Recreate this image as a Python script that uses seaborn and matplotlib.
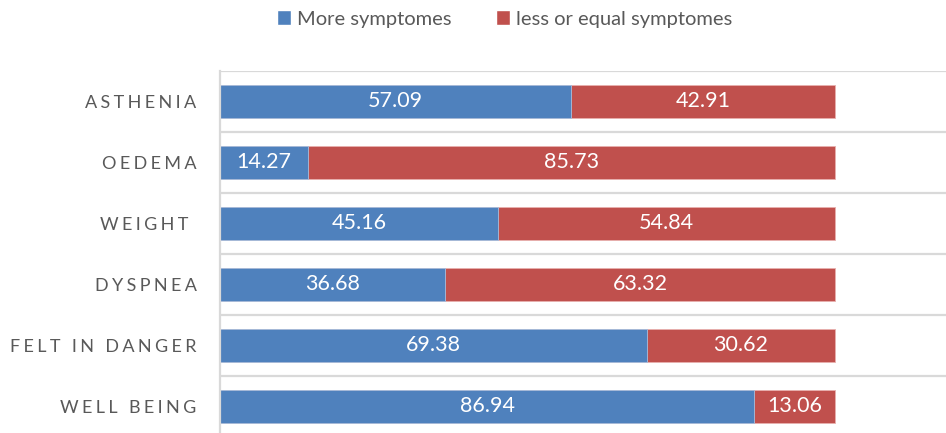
import numpy as np
import pandas as pd
import matplotlib
matplotlib.use("Agg")
import matplotlib.pyplot as plt
import seaborn as sns
from matplotlib.patches import Patch

categories = ["ASTHENIA", "OEDEMA", "WEIGHT ", "DYSPNEA", "FELT IN DANGER", "WELL BEING"]
more = [57.09, 14.27, 45.16, 36.68, 69.38, 86.94]
less = [42.91, 85.73, 54.84, 63.32, 30.62, 13.06]

BLUE = "#4F81BD"
RED = "#C0504D"
GRID = "#D9D9D9"
TEXT = "#595959"

sns.set_theme(style="white")
plt.rcParams["font.family"] = ["Lato", "DejaVu Sans"]

df = pd.DataFrame({"category": categories, "more": more, "less": less})
df["total"] = df["more"] + df["less"]

fig = plt.figure(figsize=(9.46, 4.33), dpi=100)
ax = fig.add_axes([220 / 946, 0, 1 - 220 / 946, 1 - 71 / 433])

sns.barplot(data=df, x="total", y="category", color=RED, width=0.54,
            orient="h", ax=ax, saturation=1, edgecolor="#E8B0AE", linewidth=0.6)
sns.barplot(data=df, x="more", y="category", color=BLUE, width=0.54,
            orient="h", ax=ax, saturation=1, edgecolor="#A9C0DF", linewidth=0.6)

for i, (m, l) in enumerate(zip(df["more"], df["less"])):
    ax.text(m / 2, i, f"{m:.2f}", ha="center", va="center", color="white", fontsize=15.5)
    ax.text(m + l / 2, i, f"{l:.2f}", ha="center", va="center", color="white", fontsize=15.5)

ax.set_xlim(0, 118.1)
ax.set_ylim(5.44, -0.5)
ax.set_xlabel("")
ax.set_ylabel("")
ax.set_xticks([])

# category boundaries as gridlines
for b in np.arange(-0.5, len(categories), 1.0):
    ax.axhline(b, color=GRID, lw=1.6, zorder=0)

# letter-spaced labels like the original
gap = "\u2009\u200a"
spaced = [gap.join(list(c)) for c in categories]
ax.set_yticks(range(len(categories)))
ax.set_yticklabels(spaced, fontsize=13, color=TEXT)
ax.tick_params(axis="y", length=0, pad=17)

for s in ["top", "right", "bottom"]:
    ax.spines[s].set_visible(False)
ax.spines["left"].set_color(GRID)
ax.spines["left"].set_linewidth(1.6)

handles = [Patch(facecolor=BLUE, label="More symptomes"),
           Patch(facecolor=RED, label="less or equal symptomes")]
fig.legend(handles=handles, loc="center", bbox_to_anchor=(505 / 946, 1 - 19 / 433),
           ncol=2, frameon=False, fontsize=14.5, labelcolor=TEXT,
           handlelength=0.7, handleheight=0.7, handletextpad=0.3, columnspacing=2.2)

fig.savefig("out.png", dpi=100)
